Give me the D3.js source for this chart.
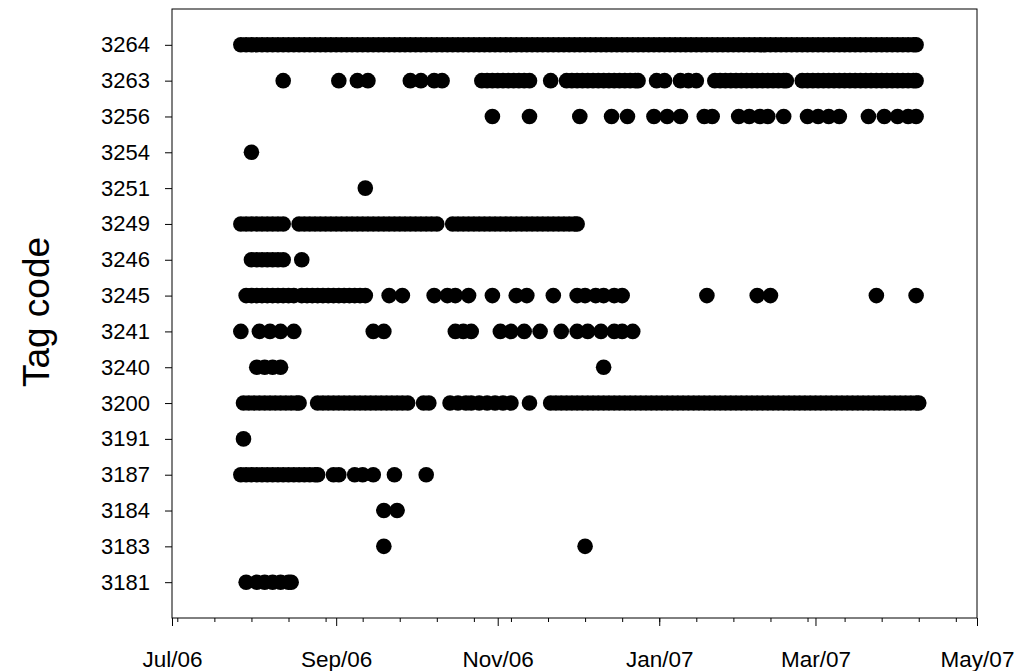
<!DOCTYPE html>
<html>
<head>
<meta charset="utf-8">
<script src="https://cdn.jsdelivr.net/npm/d3@7"></script>
<style>
  body { margin: 0; background: #fff; }
  text { font-family: "Liberation Sans", Arial, sans-serif; }
</style>
</head>
<body>
<svg id="chart" width="1017" height="671"></svg>
<script>
// Tag codes, top to bottom as on the y axis
const tags = ["3264", "3263", "3256", "3254", "3251", "3249", "3246", "3245",
              "3241", "3240", "3200", "3191", "3187", "3184", "3183", "3181"];

// Detection days for each tag, counted in days from 1 Jul 2006
const day0 = new Date(2006, 6, 1);
const tag3264 = [26, 28, 30, 32, 34, 36, 38, 40, 42, 44, 46, 48, 50, 52, 54, 56, 58, 60, 62, 64, 66, 68, 70, 72, 74,
                 76, 78, 80, 82, 84, 86, 88, 90, 92, 94, 96, 98, 100, 102, 104, 106, 108, 110, 112, 114, 116, 118,
                 120, 122, 124, 126, 128, 130, 132, 134, 136, 138, 140, 142, 144, 146, 148, 150, 152, 154, 156, 158,
                 160, 162, 164, 166, 168, 170, 172, 174, 176, 178, 180, 182, 184, 186, 188, 190, 192, 194, 196, 198,
                 200, 202, 204, 206, 208, 210, 212, 214, 216, 218, 220, 222, 224, 226, 228, 230, 232, 234, 236, 238,
                 240, 242, 244, 246, 248, 250, 252, 254, 256, 258, 260, 262, 264, 266, 268, 270, 272, 274, 276, 278,
                 280, 281];
const tag3263 = [42, 63, 70, 74, 90, 94, 99, 102, 117, 119, 121, 123, 125, 127, 129, 131, 133, 135, 143, 149, 151,
                 153, 155, 157, 159, 161, 163, 165, 167, 169, 171, 173, 175, 176, 183, 186, 192, 195, 198, 205, 207,
                 209, 211, 213, 215, 217, 219, 221, 223, 225, 227, 229, 231, 232, 238, 240, 242, 244, 246, 248, 250,
                 252, 254, 256, 258, 260, 262, 264, 266, 268, 270, 272, 274, 276, 278, 280, 281];
const tag3256 = [121, 135, 154, 166, 172, 182, 187, 192, 201, 204, 214, 218, 222, 225, 231, 240, 244, 248, 252,
                 263, 269, 274, 278, 281];
const tag3254 = [30];
const tag3251 = [73];
const tag3249 = [26, 28, 30, 32, 34, 36, 38, 40, 42, 48, 50, 52, 54, 56, 58, 60, 62, 64, 66, 68, 70, 72, 74, 76, 78,
                 80, 82, 84, 86, 88, 90, 92, 94, 96, 98, 100, 106, 108, 110, 112, 114, 116, 118, 120, 122, 124, 126,
                 128, 130, 132, 134, 136, 138, 140, 142, 144, 146, 148, 150, 152, 153];
const tag3246 = [30, 32, 34, 36, 38, 40, 42, 49];
const tag3245 = [28, 30, 32, 34, 36, 38, 40, 42, 44, 46, 49, 51, 53, 55, 57, 59, 61, 63, 65, 67, 69, 71, 73,
                 82, 87, 99, 104, 107, 112, 121, 130, 134, 144, 153, 156, 160, 163, 167, 170, 202, 221, 226, 266, 281];
const tag3241 = [26, 33, 37, 41, 46, 76, 80, 107, 110, 113, 124, 128, 133, 139, 147, 153, 157, 162, 167, 170, 174];
const tag3240 = [32, 35, 38, 41, 163];
const tag3200 = [27, 29, 31, 33, 35, 37, 39, 41, 43, 45, 47, 48, 55, 57, 59, 61, 63, 65, 67, 69, 71, 73, 75, 77,
                 79, 81, 83, 85, 87, 89, 95, 97, 105, 108, 111, 113, 116, 119, 122, 125, 128, 135, 143, 145, 147, 149,
                 151, 153, 155, 157, 159, 161, 163, 165, 167, 169, 171, 173, 175, 177, 179, 181, 183, 185, 187, 189,
                 191, 193, 195, 197, 199, 201, 203, 205, 207, 209, 211, 213, 215, 217, 219, 221, 223, 225, 227, 229,
                 231, 233, 235, 237, 239, 241, 243, 245, 247, 249, 251, 253, 255, 257, 259, 261, 263, 265, 267, 269,
                 271, 273, 275, 277, 279, 281, 282];
const tag3191 = [27];
const tag3187 = [26, 28, 30, 32, 34, 36, 38, 40, 42, 44, 46, 48, 50, 52, 54, 55, 61, 63, 69, 72, 76, 84, 96];
const tag3184 = [80, 85];
const tag3183 = [80, 156];
const tag3181 = [28, 32, 35, 38, 41, 44, 45];

const detections = {
    "3264": tag3264, "3263": tag3263, "3256": tag3256, "3254": tag3254, "3251": tag3251,
    "3249": tag3249, "3246": tag3246, "3245": tag3245, "3241": tag3241, "3240": tag3240,
    "3200": tag3200, "3191": tag3191, "3187": tag3187, "3184": tag3184, "3183": tag3183, "3181": tag3181
};

const points = [];
tags.forEach(t => detections[t].forEach(d => points.push({ tag: t, date: d3.timeDay.offset(day0, d) })));

// Plot frame
const plotLeft = 172, plotRight = 977, plotTop = 9, plotBottom = 618;

const svg = d3.select("#chart");

const x = d3.scaleTime()
    .domain([new Date(2006, 6, 1), new Date(2007, 4, 1)])
    .range([plotLeft, plotRight]);

const y = d3.scalePoint()
    .domain(tags)
    .range([plotTop, plotBottom])
    .padding(1);

// Dots
svg.append("g")
    .selectAll("circle")
    .data(points)
    .join("circle")
    .attr("cx", d => x(d.date))
    .attr("cy", d => y(d.tag))
    .attr("r", 7.8)
    .attr("fill", "black");

// Frame
svg.append("rect")
    .attr("x", plotLeft)
    .attr("y", plotTop)
    .attr("width", plotRight - plotLeft)
    .attr("height", plotBottom - plotTop)
    .attr("fill", "none")
    .attr("stroke", "black")
    .attr("stroke-width", 1);

// Minor ticks, every other Monday
const minorAxis = svg.append("g")
    .attr("transform", `translate(0,${plotBottom})`)
    .call(d3.axisBottom(x)
        .tickValues(d3.timeMonday.range(new Date(2006, 6, 1), new Date(2007, 4, 2), 2))
        .tickSize(4)
        .tickFormat(""));
minorAxis.select(".domain").remove();

// Major ticks, every two months
const majorTicks = d3.timeMonth.range(new Date(2006, 6, 1), new Date(2007, 4, 2), 2);
const xAxis = svg.append("g")
    .attr("transform", `translate(0,${plotBottom})`)
    .call(d3.axisBottom(x)
        .tickValues(majorTicks)
        .tickSize(8)
        .tickPadding(25)
        .tickFormat(d3.timeFormat("%b/%y")));
xAxis.select(".domain").remove();
xAxis.selectAll("text").attr("font-size", 22.5).attr("font-family", "Liberation Sans, Arial, sans-serif");

const yAxis = svg.append("g")
    .attr("transform", `translate(${plotLeft},0)`)
    .call(d3.axisLeft(y).tickSize(7).tickPadding(15));
yAxis.select(".domain").remove();
yAxis.selectAll("text").attr("font-size", 22).attr("font-family", "Liberation Sans, Arial, sans-serif");

// Y axis title
svg.append("text")
    .attr("transform", "translate(49,312) rotate(-90)")
    .attr("text-anchor", "middle")
    .attr("font-size", 37)
    .text("Tag code");
</script>
</body>
</html>
